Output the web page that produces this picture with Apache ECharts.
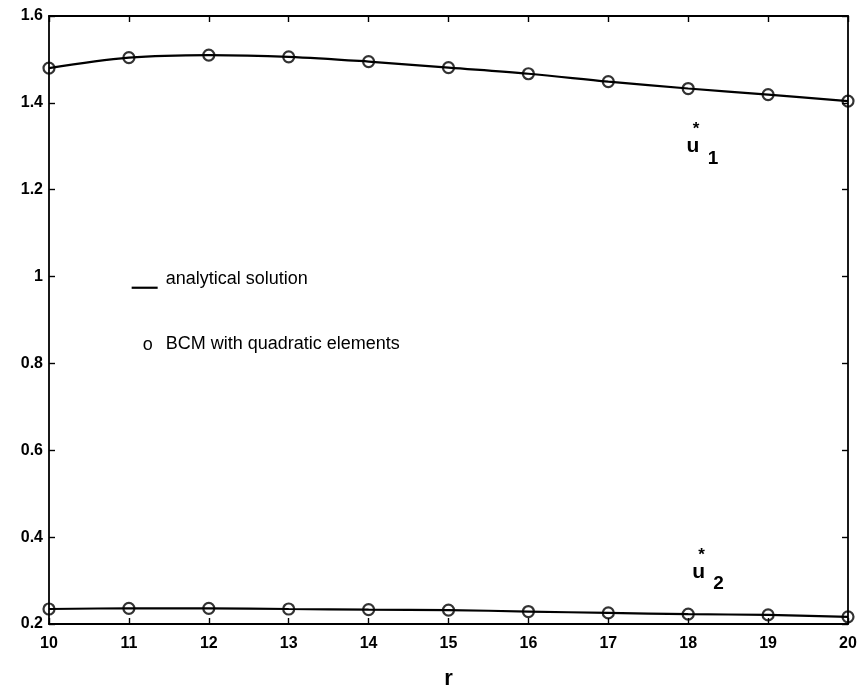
<!DOCTYPE html>
<html>
<head>
<meta charset="utf-8">
<script src="https://cdn.jsdelivr.net/npm/echarts@6/dist/echarts.min.js"></script>
<style>
html,body{margin:0;padding:0;background:#fff;}
#chart{width:866px;height:695px;}
</style>
</head>
<body>
<div id="chart"></div>
<script>
// ---- data ----
const rValues = [10, 11, 12, 13, 14, 15, 16, 17, 18, 19, 20];
const u1Analytical = [1.480, 1.504, 1.510, 1.506, 1.495, 1.481, 1.467, 1.449, 1.433, 1.419, 1.404];
const u1BCM        = [1.480, 1.504, 1.510, 1.506, 1.495, 1.481, 1.467, 1.449, 1.433, 1.419, 1.404];
const u2Analytical = [0.2345, 0.236, 0.236, 0.2345, 0.233, 0.232, 0.2287, 0.2255, 0.2226, 0.221, 0.2165];
const u2BCM        = [0.2345, 0.236, 0.236, 0.2345, 0.233, 0.232, 0.2287, 0.2255, 0.2226, 0.221, 0.2165];
const yTicks = [0.2, 0.4, 0.6, 0.8, 1, 1.2, 1.4, 1.6];
const xTicks = [10, 11, 12, 13, 14, 15, 16, 17, 18, 19, 20];
const legendLabels = ['analytical solution', 'BCM with quadratic elements'];
const curveNames = ['u', 'u'];
const curveSubs = ['1', '2'];

const pair = (xs, ys) => xs.map((x, i) => [x, ys[i]]);
const FONT = '"Liberation Sans", Arial, Helvetica, sans-serif';

const chart = echarts.init(document.getElementById('chart'), null, {renderer: 'canvas'});

const axisLineStyle = {color: '#000', width: 1.8};
const baseX = {
  type: 'value', min: xTicks[0], max: xTicks[xTicks.length - 1], interval: 1,
  splitLine: {show: false},
  axisLine: {show: true, onZero: false, lineStyle: axisLineStyle},
  axisTick: {show: true, inside: true, length: 6, lineStyle: {color: '#000', width: 1.4}}
};
const baseY = {
  type: 'value', min: yTicks[0], max: yTicks[yTicks.length - 1], interval: 0.2,
  splitLine: {show: false},
  axisLine: {show: true, onZero: false, lineStyle: axisLineStyle},
  axisTick: {show: true, inside: true, length: 6, lineStyle: {color: '#000', width: 1.4}}
};

const lineSeries = (data) => ({
  type: 'line', data: data, smooth: 0.35, showSymbol: false, symbol: 'none',
  lineStyle: {color: '#000', width: 2.2}, silent: true, z: 2
});
const circleSeries = (data) => ({
  type: 'scatter', data: data, symbol: 'circle', symbolSize: 11,
  itemStyle: {color: 'rgba(255,255,255,0)', borderColor: '#000', borderWidth: 2.2}, silent: true, z: 3
});

chart.setOption({
  animation: false,
  backgroundColor: '#fff',
  grid: {left: 49, right: 18, top: 16, bottom: 59, containLabel: false},
  xAxis: [
    Object.assign({}, baseX, {
      position: 'bottom',
      name: 'r', nameLocation: 'middle', nameGap: 44,
      nameTextStyle: {fontFamily: FONT, fontSize: 22, fontWeight: 'bold', color: '#000'},
      axisLabel: {show: true, margin: 12, fontFamily: FONT, fontSize: 16, fontWeight: 'bold', color: '#000'}
    }),
    Object.assign({}, baseX, {position: 'top', axisLabel: {show: false}})
  ],
  yAxis: [
    Object.assign({}, baseY, {
      position: 'left',
      axisLabel: {show: true, margin: 6, fontFamily: FONT, fontSize: 16, fontWeight: 'bold', color: '#000',
        formatter: v => String(+v.toFixed(1))}
    }),
    Object.assign({}, baseY, {position: 'right', axisLabel: {show: false}})
  ],
  series: [
    Object.assign(lineSeries(pair(rValues, u1Analytical)), {name: legendLabels[0]}),
    Object.assign(lineSeries(pair(rValues, u2Analytical)), {name: legendLabels[0]}),
    Object.assign(circleSeries(pair(rValues, u1BCM)), {name: legendLabels[1]}),
    Object.assign(circleSeries(pair(rValues, u2BCM)), {name: legendLabels[1]})
  ]
});

// legend (drawn as text like the original figure) and curve labels anchored in data space
function curveLabel(r, v, sub) {
  const p = chart.convertToPixel({xAxisIndex: 0, yAxisIndex: 0}, [r, v]);
  return {
    type: 'group', x: p[0], y: p[1], silent: true,
    children: [
      {type: 'text', x: 0, y: 0, style: {text: curveNames[0], fontFamily: FONT, fontSize: 21, fontWeight: 'bold', fill: '#000', align: 'center', verticalAlign: 'middle'}},
      {type: 'text', x: 3, y: -17, style: {text: '*', fontFamily: FONT, fontSize: 17, fontWeight: 'bold', fill: '#000', align: 'center', verticalAlign: 'middle'}},
      {type: 'text', x: 20, y: 12, style: {text: sub, fontFamily: FONT, fontSize: 19, fontWeight: 'bold', fill: '#000', align: 'center', verticalAlign: 'middle'}}
    ]
  };
}
const legPos = chart.convertToPixel({xAxisIndex: 0, yAxisIndex: 0}, [11.46, 0.995]);
const legPos2 = chart.convertToPixel({xAxisIndex: 0, yAxisIndex: 0}, [11.46, 0.845]);
chart.setOption({
  graphic: [
    {type: 'line', silent: true, shape: {x1: legPos[0] - 34, y1: legPos[1] + 9, x2: legPos[0] - 8, y2: legPos[1] + 9},
      style: {stroke: '#000', lineWidth: 2.2}},
    {type: 'text', silent: true, x: legPos[0], y: legPos[1],
      style: {text: legendLabels[0], fontFamily: FONT, fontSize: 18, fill: '#000', verticalAlign: 'middle'}},
    {type: 'text', silent: true, x: legPos2[0] - 18, y: legPos2[1] + 1,
      style: {text: 'o', fontFamily: FONT, fontSize: 18, fill: '#000', align: 'center', verticalAlign: 'middle'}},
    {type: 'text', silent: true, x: legPos2[0], y: legPos2[1],
      style: {text: legendLabels[1], fontFamily: FONT, fontSize: 18, fill: '#000', verticalAlign: 'middle'}},
    curveLabel(18.06, 1.30, curveSubs[0]),
    curveLabel(18.13, 0.32, curveSubs[1])
  ]
});
</script>
</body>
</html>
